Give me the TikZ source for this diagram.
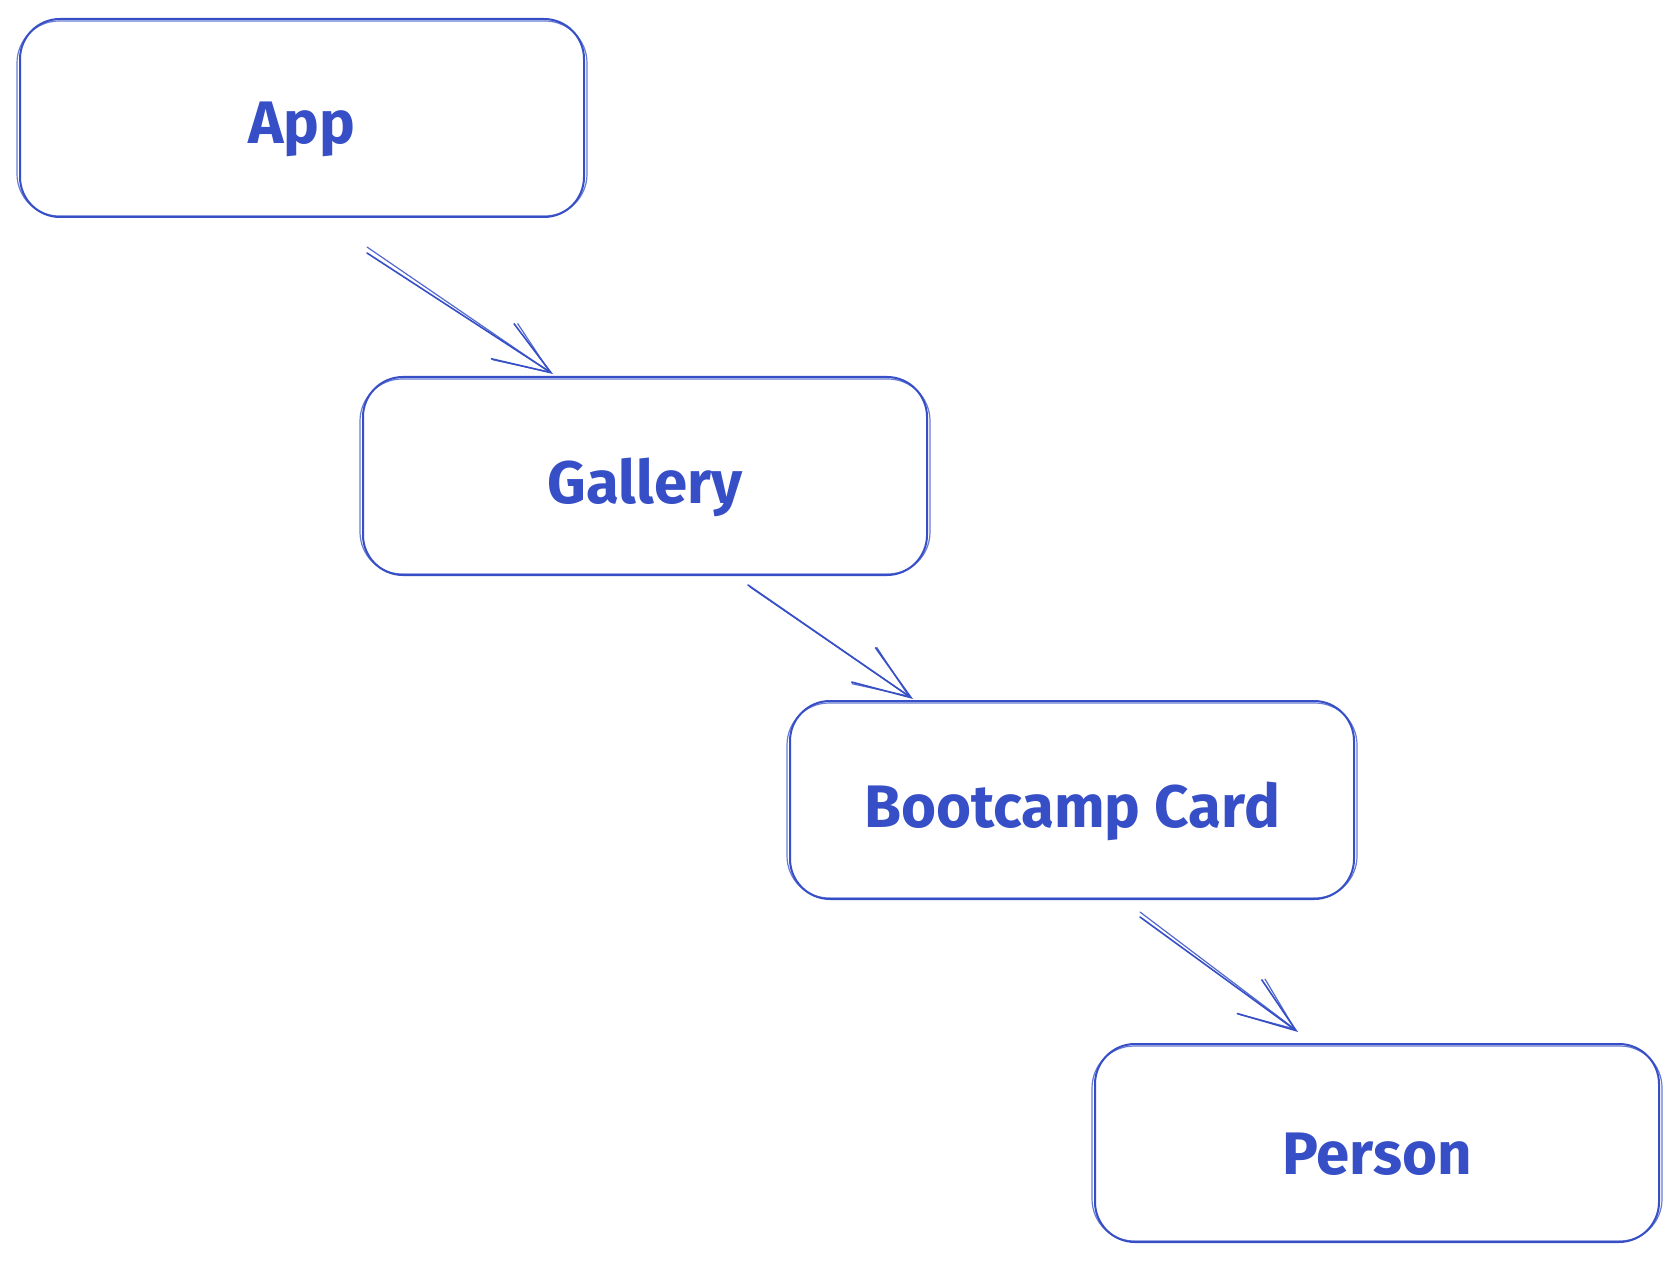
\documentclass[tikz,border=0pt]{standalone}
\usepackage{fontspec}
\setmainfont{Fira Sans}
\usetikzlibrary{arrows.meta,calc}
\definecolor{ink}{HTML}{364FC7}
\newcommand\boxlbl[1]{\raisebox{-5.5pt}[\height][\depth]{#1}}
\begin{document}
\begin{tikzpicture}[x=0.5pt,y=-0.5pt,
  box/.style={draw=ink, line width=1pt, rounded corners=20pt, minimum width=282pt, minimum height=99pt, inner sep=0pt, text=ink, font=\fontsize{30}{36}\selectfont\bfseries},
  sketch/.style={draw=ink, line width=0.6pt, rounded corners=21pt, opacity=0.75},
  conn/.style={draw=ink, line width=0.8pt, line cap=round, -{Straight Barb[length=29pt,width=21pt,line width=0.8pt]}},
  ghost/.style={draw=ink, line width=0.6pt, line cap=round, opacity=0.85, -{Straight Barb[length=27pt,width=22pt,line width=0.6pt]}}]
\useasboundingbox (0,0) rectangle (1679,1261);
\fill[white] (0,0) rectangle (1679,1261);

\node[box] (app) at (302,118) {\boxlbl{App}};
\node[box] (gallery) at (645,476) {\boxlbl{Gallery}};
\node[box] (card) at (1072,800) {\boxlbl{Bootcamp Card}};
\node[box] (person) at (1377,1143) {\boxlbl{Person}};

\foreach \n in {app,gallery,card,person}{
  \draw[sketch] ([shift={(-2,3)}]\n.north west) rectangle ([shift={(2,-2)}]\n.south east);
}

% connector end points
\coordinate (a1s) at ($(app.south)+(65,35)$);
\coordinate (a1e) at ($(gallery.north)+(-92,-2)$);
\coordinate (a2s) at ($(gallery.south)+(103,9)$);
\coordinate (a2e) at ($(card.north)+(-159,-1)$);
\coordinate (a3s) at ($(card.south)+(68,17)$);
\coordinate (a3e) at ($(person.north)+(-79,-11)$);

\draw[conn] (a1s) -- (a1e);
\draw[ghost] ($(a1s)+(0,-6)$) -- ($(a1e)+(-2,-1)$);
\draw[conn] (a2s) -- (a2e);
\draw[ghost] ($(a2s)+(2,2)$) -- ($(a2e)+(-3,-2)$);
\draw[conn] (a3s) -- (a3e);
\draw[ghost] ($(a3s)+(0,-5)$) -- ($(a3e)+(-2,-2)$);
\end{tikzpicture}
\end{document}
